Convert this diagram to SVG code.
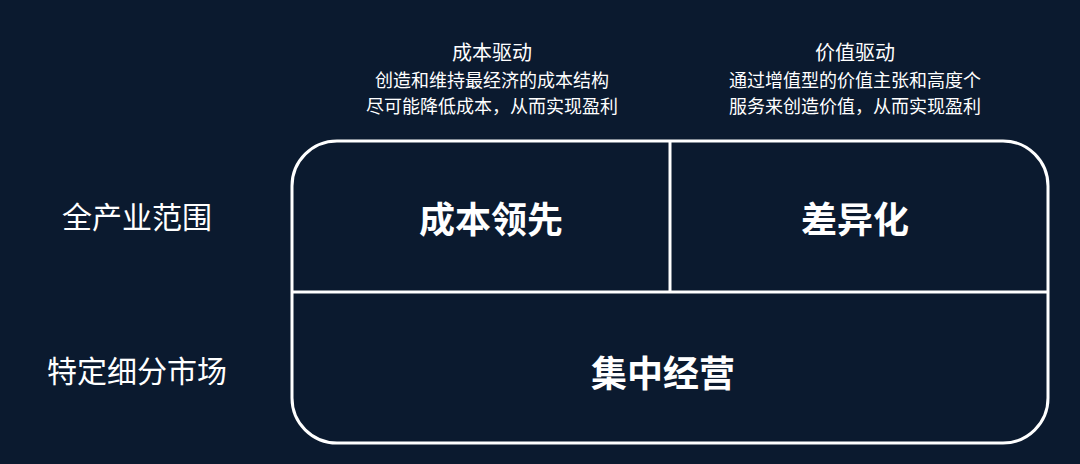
<svg xmlns="http://www.w3.org/2000/svg" width="1080" height="464" viewBox="0 0 1080 464">
<style>
text{font-family:"Noto Sans CJK SC","Noto Sans",sans-serif;fill:#fff;text-anchor:middle;dominant-baseline:central}
.h{font-size:20px}.s{font-size:18px}.l{font-size:30px}.b{font-size:36px;font-weight:bold}
.ln{stroke:#fff;stroke-width:3;fill:none}
</style>
<rect width="1080" height="464" fill="#0b1a2f"/>
<g id="header-cost"><text class="h" x="492" y="51">成本驱动</text><text class="s" x="492" y="79">创造和维持最经济的成本结构</text><text class="s" x="492" y="105">尽可能降低成本，从而实现盈利</text></g>
<g id="header-diff"><text class="h" x="855" y="51">价值驱动</text><text class="s" x="855" y="79">通过增值型的价值主张和高度个</text><text class="s" x="855" y="105">服务来创造价值，从而实现盈利</text></g>
<g id="row1"><text class="l" x="137" y="215">全产业范围</text></g>
<g id="row2"><text class="l" x="137" y="369">特定细分市场</text></g>
<g id="connectors">
<rect class="ln" x="292" y="141" width="756" height="302" rx="45"/>
<line class="ln" x1="292" y1="292" x2="1048" y2="292"/>
<line class="ln" x1="670" y1="141" x2="670" y2="292"/>
</g>
<g id="cost"><text class="b" x="491" y="217">成本领先</text></g>
<g id="diff"><text class="b" x="855" y="217">差异化</text></g>
<g id="focus"><text class="b" x="663" y="371">集中经营</text></g>
</svg>
